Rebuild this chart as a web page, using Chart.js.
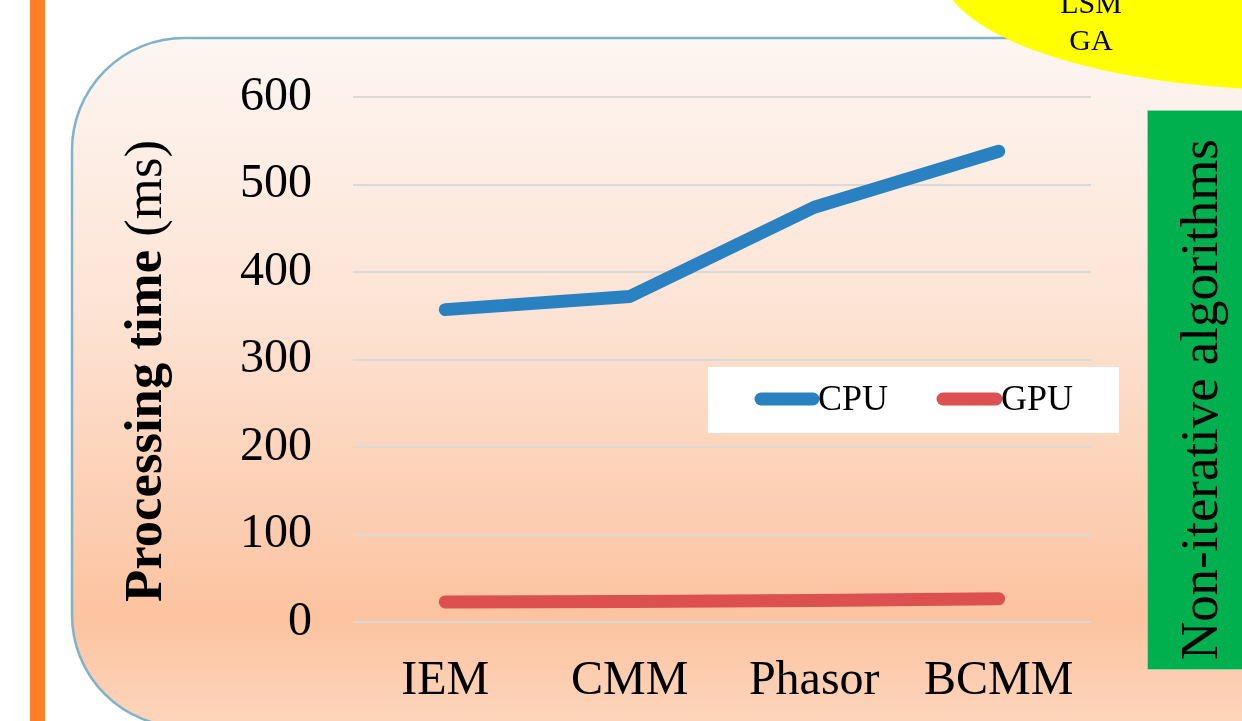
<!DOCTYPE html>
<html lang="en">
<head>
    <meta charset="UTF-8">
    <title>Processing time CPU vs GPU</title>
    <script src="https://cdn.jsdelivr.net/npm/chart.js"></script>
    <style>
        body {
            margin: 0;
            padding: 0;
            background: #ffffff;
        }

        .chart-box {
            position: relative;
            width: 1242px;
            height: 721px;
        }
    </style>
</head>
<body>
    <div class="chart-box">
        <canvas id="tempoChart"></canvas>
    </div>

    <script>
        // algorithms on the x axis
        const categories = ['IEM', 'CMM', 'Phasor', 'BCMM'];

        // processing time in ms
        const cpuTimes = [357, 372, 474, 538];
        const gpuTimes = [23, 23.5, 24.5, 26.5];

        // y axis range
        const yMin = 0;
        const yMax = 600;
        const yStep = 100;

        const serif = "'Liberation Serif', 'Times New Roman', serif";
        const cpuColor = '#2a81c1';
        const gpuColor = '#dc514f';

        // slide-like background: orange bar, rounded panel, yellow bubble, green tag
        const scenePlugin = {
            id: 'scene',
            beforeDraw(chart) {
                const ctx = chart.ctx;
                ctx.save();
                ctx.fillStyle = '#ffffff';
                ctx.fillRect(0, 0, chart.width, chart.height);

                ctx.fillStyle = '#fe7f27';
                ctx.fillRect(30, 0, 15, chart.height);

                // rounded panel
                const x = 72, y = 38, w = 1300, h = 689, r = 112;
                const grad = ctx.createLinearGradient(0, y, 0, y + h);
                grad.addColorStop(0, '#fdf6f2');
                grad.addColorStop(0.4, '#fde3d4');
                grad.addColorStop(0.84, '#fcc3a0');
                grad.addColorStop(1, '#fdd6bd');
                ctx.beginPath();
                ctx.roundRect(x, y, w, h, r);
                ctx.fillStyle = grad;
                ctx.fill();
                ctx.lineWidth = 2.5;
                ctx.strokeStyle = '#7fb3cc';
                ctx.stroke();

                // yellow bubble
                ctx.beginPath();
                ctx.ellipse(1300, -32, 360, 122, 0, 0, Math.PI * 2);
                ctx.fillStyle = '#ffff00';
                ctx.fill();
                ctx.fillStyle = '#000000';
                ctx.font = '30px ' + serif;
                ctx.textAlign = 'center';
                ctx.textBaseline = 'alphabetic';
                ctx.fillText('LSM', 1091, 13);
                ctx.fillText('GA', 1091, 50);

                // green tag
                ctx.fillStyle = '#00b04f';
                ctx.fillRect(1147, 110, 100, 560);
                ctx.strokeStyle = '#8fd6a8';
                ctx.lineWidth = 1;
                ctx.strokeRect(1147.5, 110.5, 100, 559);

                const tag = 'Non-iterative algorithms';
                ctx.font = '53px ' + serif;
                const tw = ctx.measureText(tag).width;
                const size = 53 * 521 / tw;
                ctx.font = size + 'px ' + serif;
                ctx.fillStyle = '#000000';
                ctx.translate(1217, 660);
                ctx.rotate(-Math.PI / 2);
                ctx.textAlign = 'left';
                ctx.fillText(tag, 0, 0);
                ctx.restore();
            }
        };

        // y axis title with bold and normal parts
        const yTitlePlugin = {
            id: 'yTitle',
            afterDraw(chart) {
                const ctx = chart.ctx;
                const boldPart = 'Processing time ';
                const normalPart = '(ms)';
                ctx.save();
                ctx.font = 'bold 52px ' + serif;
                const w1 = ctx.measureText(boldPart).width;
                ctx.font = '52px ' + serif;
                const w2 = ctx.measureText(normalPart).width;
                const k = 462 / (w1 + w2);
                const size = 52 * k;
                ctx.translate(161, 602);
                ctx.rotate(-Math.PI / 2);
                ctx.fillStyle = '#000000';
                ctx.textBaseline = 'alphabetic';
                ctx.textAlign = 'left';
                ctx.font = 'bold ' + size + 'px ' + serif;
                ctx.fillText(boldPart, 0, 0);
                ctx.font = size + 'px ' + serif;
                ctx.fillText(normalPart, w1 * k, 0);
                ctx.restore();
            }
        };

        // legend drawn as a white box inside the plot
        const legendBoxPlugin = {
            id: 'legendBox',
            afterDraw(chart) {
                const ctx = chart.ctx;
                ctx.save();
                ctx.fillStyle = '#ffffff';
                ctx.fillRect(708, 367, 411, 66);
                ctx.lineCap = 'round';
                ctx.lineWidth = 13;
                const items = [
                    { label: chart.data.datasets[0].label, color: cpuColor, x0: 761, x1: 813 },
                    { label: chart.data.datasets[1].label, color: gpuColor, x0: 943, x1: 996 }
                ];
                ctx.font = '36px ' + serif;
                ctx.textBaseline = 'middle';
                items.forEach(it => {
                    ctx.strokeStyle = it.color;
                    ctx.beginPath();
                    ctx.moveTo(it.x0, 399);
                    ctx.lineTo(it.x1, 399);
                    ctx.stroke();
                    ctx.fillStyle = '#000000';
                    ctx.fillText(it.label, it.x1 + 5, 401);
                });
                ctx.restore();
            }
        };

        new Chart(document.getElementById('tempoChart').getContext('2d'), {
            type: 'line',
            data: {
                labels: categories,
                datasets: [{
                    label: 'CPU',
                    data: cpuTimes,
                    borderColor: cpuColor,
                    borderWidth: 13,
                    borderCapStyle: 'round',
                    borderJoinStyle: 'round',
                    pointRadius: 0,
                    tension: 0,
                    fill: false
                }, {
                    label: 'GPU',
                    data: gpuTimes,
                    borderColor: gpuColor,
                    borderWidth: 13,
                    borderCapStyle: 'round',
                    borderJoinStyle: 'round',
                    pointRadius: 0,
                    tension: 0,
                    fill: false
                }]
            },
            options: {
                responsive: true,
                maintainAspectRatio: false,
                animation: false,
                layout: {
                    padding: { left: 0, right: 151, top: 97, bottom: 0 }
                },
                plugins: {
                    legend: { display: false },
                    tooltip: { enabled: false }
                },
                scales: {
                    x: {
                        offset: true,
                        grid: { display: false, drawTicks: false },
                        border: { display: false },
                        ticks: {
                            color: '#000000',
                            padding: 31,
                            font: { family: serif, size: 48 }
                        },
                        afterFit(scale) { scale.height = 99; }
                    },
                    y: {
                        min: yMin,
                        max: yMax,
                        grid: { color: '#d9d9d9', lineWidth: 2, drawTicks: false },
                        border: { display: false },
                        ticks: {
                            stepSize: yStep,
                            color: '#000000',
                            padding: 41,
                            font: { family: serif, size: 48 }
                        },
                        afterFit(scale) { scale.width = 353; }
                    }
                }
            },
            plugins: [scenePlugin, yTitlePlugin, legendBoxPlugin]
        });
    </script>
</body>
</html>
